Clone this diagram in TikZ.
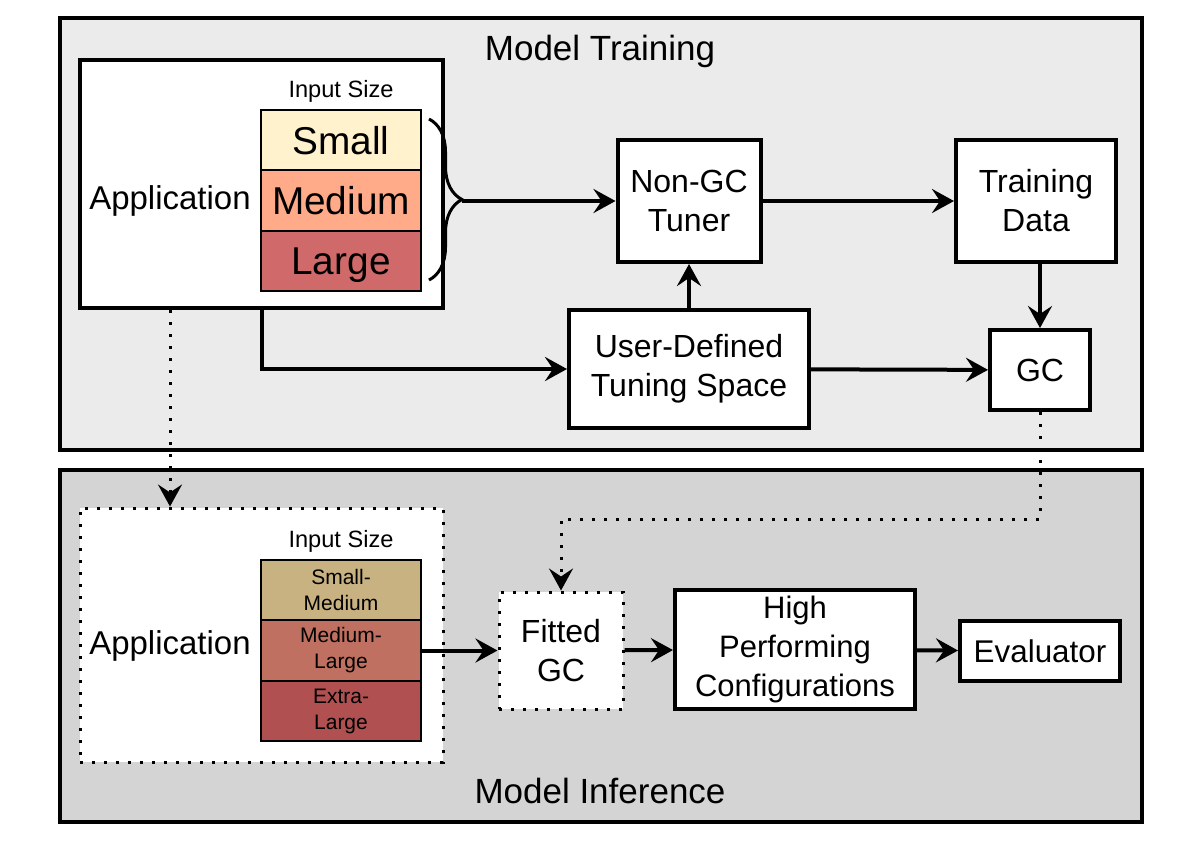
\documentclass[tikz,border=0pt]{standalone}
\usepackage{fontspec}
\setmainfont{Liberation Sans}
\usetikzlibrary{arrows.meta,decorations.pathreplacing}

\definecolor{trainGray}{HTML}{EBEBEB}
\definecolor{inferGray}{HTML}{D4D4D4}
\definecolor{smallFill}{HTML}{FFF2CC}
\definecolor{mediumFill}{HTML}{FFAA88}
\definecolor{largeFill}{HTML}{D06A6A}
\definecolor{smallMedFill}{HTML}{C9B282}
\definecolor{medLargeFill}{HTML}{BF7060}
\definecolor{xLargeFill}{HTML}{B05050}

\begin{document}
\begin{tikzpicture}
[x=0.5pt,y=-0.5pt,
  panelDecorate/.style={draw,line width=1.75pt},%
  boxDecorate/.style={shape=rectangle,draw,line width=2pt,fill=white,inner sep=0pt,align=center,font=\fontsize{16}{19.5}\selectfont},%
  dotDecorate/.style={line width=1.5pt,dash pattern=on 1.5pt off 4.5pt},%
  sizeDecorate/.style={shape=rectangle,draw,line width=1pt,minimum width=80pt,minimum height=30.25pt,inner sep=0pt,align=center},%
  bigText/.style={font=\fontsize{19.4}{22}\selectfont,text depth=0pt},%
  smallText/.style={font=\fontsize{10.5}{13}\selectfont},%
  labelText/.style={font=\fontsize{11.8}{14}\selectfont},%
  titleText/.style={font=\fontsize{17.5}{21}\selectfont},%
  lineDecorate/.style={-{Stealth[length=11pt,width=12pt,inset=4pt]},line width=2pt}]
\useasboundingbox (0,0) rectangle (1203,848);
%% panels
\draw [panelDecorate,fill=trainGray] (60,18) rectangle (1142,450);
\draw [panelDecorate,fill=inferGray] (60,470) rectangle (1142,822);
\node (trainTitle) at (600,51) [titleText] {Model Training};
\node (inferTitle) at (600,791) [titleText] {Model Inference};
%% model training nodes
\node (appA) at (261.5,184) [boxDecorate,minimum width=181.5pt,minimum height=124pt] {};
\node (appTextA) at (170,201) [font=\fontsize{16.5}{19.5}\selectfont] {Application};
\node (inputA) at (341,91) [labelText] {Input Size};
\node (smallA) at (341,140) [sizeDecorate,fill=smallFill,bigText] {Small};
\node (mediumA) at (341,200.5) [sizeDecorate,fill=mediumFill,bigText] {Medium};
\node (largeA) at (341,261) [sizeDecorate,fill=largeFill,bigText] {Large};
\coordinate (braceTip) at (462,201);
\node (tuner) at (689,201) [boxDecorate,minimum width=71.5pt,minimum height=61pt] {Non-GC\\Tuner};
\node (train) at (1036,201) [boxDecorate,minimum width=80pt,minimum height=61pt] {Training\\Data};
\node (space) at (689,369) [boxDecorate,minimum width=120pt,minimum height=59pt] {User-Defined\\Tuning Space};
\node (gc) at (1040,370) [boxDecorate,minimum width=50pt,minimum height=40pt] {GC};
%% model inference nodes
\node (appB) at (261.5,635) [boxDecorate,dotDecorate,minimum width=181.5pt,minimum height=127pt] {};
\node (appTextB) at (170,646) [font=\fontsize{16.5}{19.5}\selectfont] {Application};
\node (inputB) at (341,541) [labelText] {Input Size};
\node (smallB) at (341,590) [sizeDecorate,fill=smallMedFill,smallText] {Small-\\Medium};
\node (mediumB) at (341,650.5) [sizeDecorate,fill=medLargeFill,smallText] {Medium-\\Large};
\node (largeB) at (341,711) [sizeDecorate,fill=xLargeFill,smallText] {Extra-\\Large};
\node (fitted) at (561,650.5) [boxDecorate,dotDecorate,minimum width=62pt,minimum height=58.5pt] {Fitted\\GC};
\node (perf) at (795,649.5) [boxDecorate,minimum width=120pt,minimum height=59.5pt,font=\fontsize{15.5}{19.3}\selectfont] {High\\Performing\\Configurations};
\node (eval) at (1040,651) [boxDecorate,minimum width=80pt,minimum height=30pt,font=\fontsize{15.7}{19}\selectfont] {Evaluator};
%% brace over the input sizes
\draw [line width=1.5pt,decorate,decoration={brace,amplitude=16.5pt}] (429,119) -- (429,280);
%% edges or lines
\path
(braceTip) edge[lineDecorate] (tuner.west)
(tuner) edge[lineDecorate] (train)
(space) edge[lineDecorate] (tuner)
(train.south -| gc.north) edge[lineDecorate] (gc.north)
(space) edge[lineDecorate] (gc)
(mediumB.east) edge[lineDecorate] (fitted.west)
(fitted) edge[lineDecorate] (perf)
(perf) edge[lineDecorate] (eval);
\draw [lineDecorate] (appA.south) |- (space.west);
\draw [lineDecorate,dotDecorate] (appTextA |- appA.south) -- (appTextA |- appB.north);
\draw [lineDecorate,dotDecorate] (gc.south) -- (gc.south |- 0,519) -| (fitted.north);
\end{tikzpicture}
\end{document}
